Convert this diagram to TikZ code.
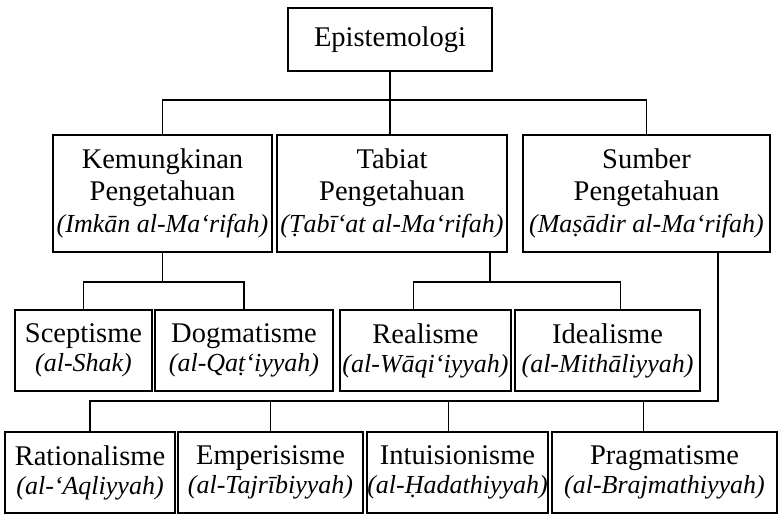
\documentclass[tikz,border=0pt]{standalone}
\usepackage{fontspec}
\setmainfont{Liberation Serif}
\newcommand{\arab}[1]{{\fontsize{26}{30}\selectfont\itshape #1}}
\begin{document}
\begin{tikzpicture}[x=1pt,y=-1pt,line width=1.2pt]
        \useasboundingbox (0,0) rectangle (778,515);
        \begin{scope}[every node/.style={rectangle,draw,line width=1.2pt,inner sep=0pt,align=center,font=\fontsize{28.5}{29}\selectfont}]
            % Akar
            \node[minimum width=204pt,minimum height=63pt] (Epi) at (390,39.5) {Epistemologi};
            % Tingkat 1
            \begin{scope}[every node/.append style={minimum height=117pt,font=\fontsize{28.5}{32}\selectfont}]
                \node[minimum width=219pt] (Kem) at (162.5,193.5) {Kemungkinan\\Pengetahuan\\\arab{(Imkān al-Ma‘rifah)}};
                \node[minimum width=230pt] (Tab) at (392,193.5) {Tabiat\\Pengetahuan\\\arab{(Ṭabī‘at al-Ma‘rifah)}};
                \node[minimum width=247pt] (Sum) at (646.5,193.5) {Sumber\\Pengetahuan\\\arab{(Maṣādir al-Ma‘rifah)}};
            \end{scope}
            % Tingkat 2
            \node[minimum width=137pt,minimum height=81pt] (Sce) at (83.5,350.5) {Sceptisme\\\arab{(al-Shak)}};
            \node[minimum width=178pt,minimum height=81pt] (Dog) at (244,350.5) {Dogmatisme\\\arab{(al-Qaṭ‘iyyah)}};
            \node[minimum width=171pt,minimum height=81pt] (Rea) at (425.5,350.5) {Realisme\\\arab{(al-Wāqi‘iyyah)}};
            \node[minimum width=185pt,minimum height=81pt] (Ide) at (607.5,350.5) {Idealisme\\\arab{(al-Mithāliyyah)}};
            % Tingkat 3
            \node[minimum width=170pt,minimum height=81pt] (Rat) at (90,472.5) {Rationalisme\\\arab{(al-‘Aqliyyah)}};
            \node[minimum width=185pt,minimum height=81pt] (Emp) at (270.5,472.5) {Emperisisme\\\arab{(al-Tajrībiyyah)}};
            \node[minimum width=181pt,minimum height=81pt] (Int) at (457.5,472.5) {Intuisionisme\\\arab{(al-Ḥadathiyyah)}};
            \node[minimum width=225pt,minimum height=81pt] (Pra) at (664.5,472.5) {Pragmatisme\\\arab{(al-Brajmathiyyah)}};
        \end{scope}

        % Titik cabang
        \coordinate (epij) at (390,100);
        \coordinate (kemj) at (162.5,282);
        \coordinate (tabj) at (490,282);
        \coordinate (sumj) at (718,401);

        % Relasi
        \draw (Epi.south) -- (Epi.south |- Tab.north);
        \draw (Kem.north) |- (epij) -| (Sum.north);
        \draw (Kem.south) -- (kemj);
        \draw (Sce.north) |- (kemj) -| (Dog.north);
        \draw (Tab.south -| tabj) -- (tabj);
        \draw ([xshift=-12pt]Rea.north) |- (tabj) -| ([xshift=13pt]Ide.north);
        \draw (Sum.south -| sumj) -- (sumj) -| (Rat.north);
        \draw (Emp.north) -- (Emp.north |- sumj);
        \draw ([xshift=-9pt]Int.north) -- ([xshift=-9pt]Int.north |- sumj);
        \draw ([xshift=-21pt]Pra.north) -- ([xshift=-21pt]Pra.north |- sumj);
\end{tikzpicture}
\end{document}
